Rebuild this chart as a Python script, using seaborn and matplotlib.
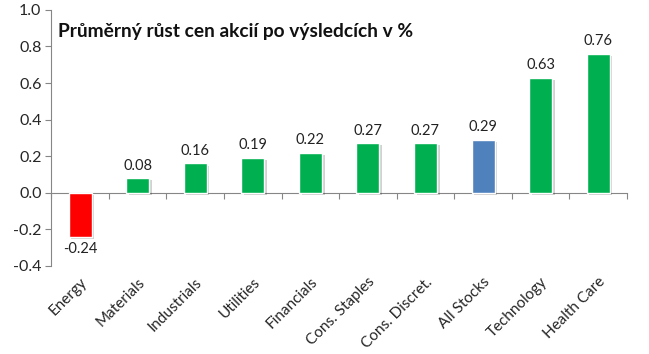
import matplotlib
matplotlib.use("Agg")
import matplotlib.pyplot as plt
import matplotlib.patheffects as pe
import seaborn as sns
import pandas as pd

# --- data ---
categories = ["Energy", "Materials", "Industrials", "Utilities", "Financials",
              "Cons. Staples", "Cons. Discret.", "All Stocks", "Technology", "Health Care"]
values = [-0.24, 0.08, 0.16, 0.19, 0.22, 0.27, 0.27, 0.29, 0.63, 0.76]
bar_colors = ["#FF0000", "#00B050", "#00B050", "#00B050", "#00B050",
              "#00B050", "#00B050", "#4F81BD", "#00B050", "#00B050"]
title = "Průměrný růst cen akcií po výsledcích v %"

sns.set_style("white")
plt.rcParams["font.family"] = ["Lato", "DejaVu Sans"]

df = pd.DataFrame({"category": categories, "value": values})

fig = plt.figure(figsize=(6.49, 3.54), dpi=100)
ax = fig.add_axes([0.079, 0.249, 0.887, 0.723])

sns.barplot(data=df, x="category", y="value", hue="category",
            palette=dict(zip(categories, bar_colors)), legend=False,
            width=0.4, saturation=1, ax=ax)

# soft shadow like the spreadsheet bars
for p in ax.patches:
    p.set_path_effects([pe.SimplePatchShadow(offset=(2, -1.5), shadow_rgbFace="black", alpha=0.18),
                        pe.Normal()])

for c in ax.containers:
    ax.bar_label(c, fmt="%.2f", padding=4, fontsize=10.5, color="#222222")

ymin, ymax = -0.4, 1.0
ax.set_ylim(ymin, ymax)
ax.set_xlim(-0.5, len(categories) - 0.5)
ax.set_yticks([-0.4, -0.2, 0.0, 0.2, 0.4, 0.6, 0.8, 1.0])
ax.yaxis.set_major_formatter(matplotlib.ticker.FormatStrFormatter("%.1f"))
ax.tick_params(axis="y", left=True, length=4, color="#868686", labelsize=11.5, pad=3)
ax.tick_params(axis="x", bottom=False, labelsize=11, pad=3)
ax.set_xlabel("")
ax.set_ylabel("")

plt.setp(ax.get_xticklabels(), rotation=45, ha="right", rotation_mode="anchor")

for s in ["top", "right", "bottom"]:
    ax.spines[s].set_visible(False)
ax.spines["left"].set_color("#868686")

# category axis drawn at zero with ticks between categories
zero_frac = (0 - ymin) / (ymax - ymin)
sec = ax.secondary_xaxis(zero_frac)
sec.set_xticks([i - 0.5 for i in range(len(categories) + 1)])
sec.set_xticklabels([])
sec.tick_params(length=4, color="#868686")
sec.spines["bottom"].set_color("#868686")

ax.text(0.012, 0.915, title, transform=ax.transAxes, fontsize=13.8,
        fontweight="bold", ha="left", va="center", color="#111111")

fig.savefig("out.png", dpi=100)
